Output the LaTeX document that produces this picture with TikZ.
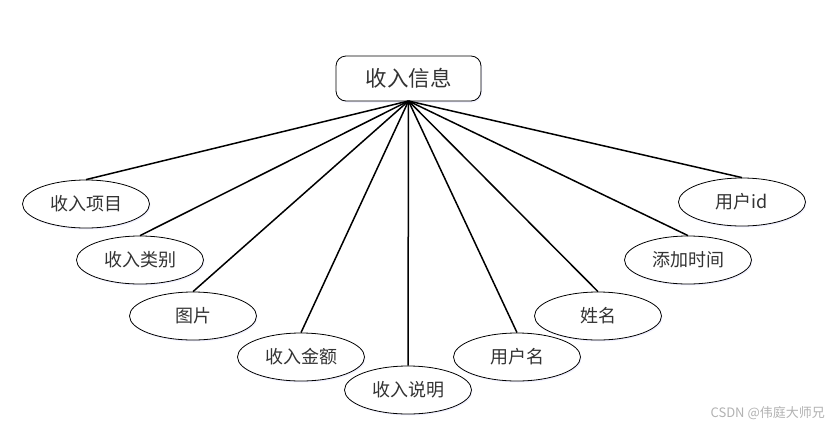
\documentclass[tikz,border=0pt]{standalone}
\usepackage{fontspec}
\newfontfamily\cjk{Noto Sans CJK SC}[Scale=1]
\usetikzlibrary{shapes.geometric,shadows}
\definecolor{txt}{HTML}{333333}
\begin{document}
\begin{tikzpicture}[x=1pt,y=-1pt,
  attr/.style={ellipse,draw=black,line width=0.8pt,fill=white,minimum width=127pt,minimum height=48pt,inner sep=0pt,
    font=\cjk\fontsize{18}{20}\selectfont,text=txt,
    drop shadow={fill=blue!8,opacity=0.7,shadow xshift=1pt,shadow yshift=-1.5pt}},
  ent/.style={rectangle,rounded corners=10pt,draw=black,line width=0.8pt,fill=white,minimum width=145pt,minimum height=45pt,inner sep=0pt,
    font=\cjk\fontsize{21.5}{24}\selectfont,text=txt,
    drop shadow={fill=blue!8,opacity=0.7,shadow xshift=1pt,shadow yshift=-1.5pt}},
  link/.style={line width=1.5pt,black}]
\useasboundingbox (0,0) rectangle (829,431);
\fill[white] (0,0) rectangle (829,431);
\node[ent] (top) at (408.5,78.5) {收入信息};
\coordinate (hub) at (408.5,101);
\node[attr] (a1) at (86,204) {收入项目};
\node[attr] (a2) at (140,260) {收入类别};
\node[attr] (a3) at (193,316) {图片};
\node[attr] (a4) at (301,357) {收入金额};
\node[attr] (a5) at (408,390) {收入说明};
\node[attr] (a6) at (517,357) {用户名};
\node[attr] (a7) at (598,316) {姓名};
\node[attr] (a8) at (688,260) {添加时间};
\node[attr] (a9) at (742,202) {用户id};
\foreach \n in {a1,a2,a3,a4,a5,a6,a7,a8,a9}{
  \draw[link] (hub) -- (\n.north);
}
\node[font=\cjk\fontsize{13}{15}\selectfont,text=black!30,anchor=east,inner sep=0pt] (wm) at (825,413) {CSDN @伟庭大师兄};
\end{tikzpicture}
\end{document}
